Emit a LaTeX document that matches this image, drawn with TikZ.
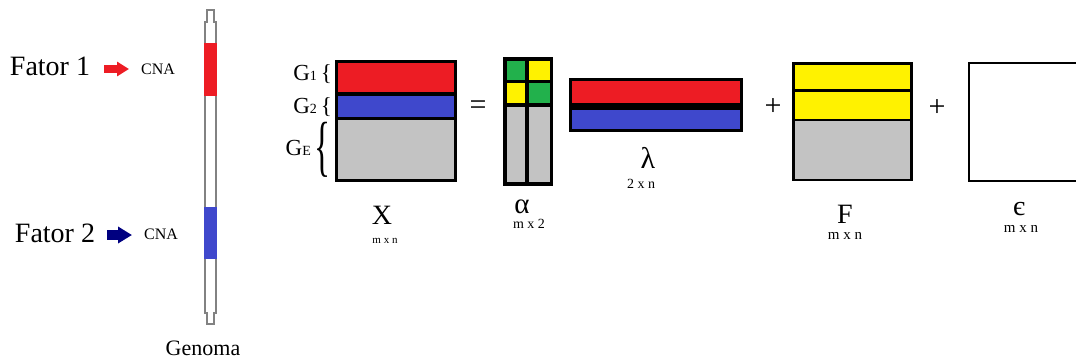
\documentclass[tikz,border=0pt]{standalone}
\usepackage{fontspec}
\usepackage{graphicx}
\setmainfont{Liberation Serif}
\usetikzlibrary{arrows.meta}

\definecolor{pred}{RGB}{237,28,36}
\definecolor{pblue}{RGB}{63,72,204}
\definecolor{pgreen}{RGB}{34,177,76}
\definecolor{pyellow}{RGB}{255,242,0}
\definecolor{pgray}{RGB}{195,195,195}
\definecolor{pnavy}{RGB}{0,0,128}
\definecolor{chrom}{RGB}{130,130,130}

\newcommand{\fsz}[1]{\fontsize{#1}{#1}\selectfont}

\begin{document}
\begin{tikzpicture}[x=1pt,y=-1pt,
  lbl/.style={inner sep=0pt, anchor=base},
  rlbl/.style={inner sep=0pt, anchor=base east},
]
\useasboundingbox (0,0) rectangle (1076,360);

% ---- chromosome ----
\draw[chrom, line width=2pt, fill=white]
  (206.5,10) -- (213.5,10) -- (213.5,22) -- (215.5,22) -- (215.5,313)
  -- (213.5,313) -- (213.5,324) -- (206.5,324) -- (206.5,313) -- (204.5,313)
  -- (204.5,22) -- (206.5,22) -- cycle;
\fill[pred]  (203.5,43)  rectangle (216.5,96);
\fill[pblue] (203.5,207) rectangle (216.5,259);
\node[lbl, font=\fsz{22}] (genoma) at (203,355) {Genoma};

% ---- factors ----
\node[lbl, font=\fsz{28}] (f1) at (50,75) {Fator 1};
\node[lbl, font=\fsz{16}] (c1) at (158,74) {CNA};
\coordinate (a1s) at (104,69);
\coordinate (a1e) at (129,69);
\draw[pred, line width=8pt, -{Triangle[length=12pt,width=14pt]}] (a1s) -- (a1e);

\node[lbl, font=\fsz{28}] (f2) at (55,242) {Fator 2};
\node[lbl, font=\fsz{16}] (c2) at (161,239) {CNA};
\coordinate (a2s) at (107,235);
\coordinate (a2e) at (132,235);
\draw[pnavy, line width=10pt, -{Triangle[length=14pt,width=16pt]}] (a2s) -- (a2e);

% ---- X ----
\fill[black] (335,60) rectangle (457,182);
\fill[pred]  (338,63) rectangle (454,92);
\fill[pblue] (338,96) rectangle (454,117);
\fill[pgray] (338,120) rectangle (454,179);
\node[rlbl, font=\fsz{23}] (g1) at (332,80) {G{\fsz{14}1}\,\{};
\node[rlbl, font=\fsz{23}] (g2) at (332,113) {G{\fsz{14}2}\,\{};
\node[rlbl, font=\fsz{23}] (ge) at (311,155) {G{\fsz{14}E}};
\node[inner sep=0pt, font=\fsz{23}] (gebrace) at (322.5,150)
  {\scalebox{1.45}[2.9]{\{}};
\node[lbl, font=\fsz{28}] (xl) at (382,224) {X};
\node[lbl, font=\fsz{11}] (xd) at (385,243) {m x n};

\node[inner sep=0pt, font=\fsz{30}] (eq) at (478,108) {=};

% ---- alpha ----
\fill[black]   (503,57) rectangle (553,186);
\fill[pgreen]  (507,61) rectangle (525,80);
\fill[pyellow] (529,61) rectangle (550,80);
\fill[pyellow] (507,83) rectangle (525,103);
\fill[pgreen]  (529,83) rectangle (550,103);
\fill[pgray]   (507,107) rectangle (525,182);
\fill[pgray]   (529,107) rectangle (550,182);
\node[lbl, font=\fsz{29}] (al) at (522,213) {α};
\node[lbl, font=\fsz{14}] (ad) at (529,228) {m x 2};

% ---- lambda ----
\fill[black] (569,78) rectangle (743,132);
\fill[pred]  (572,81) rectangle (740,103);
\fill[pblue] (572,110) rectangle (740,129);
\node[lbl, font=\fsz{30}] (ll) at (648,168) {λ};
\node[lbl, font=\fsz{14}] (ld) at (641,188) {2 x n};

\node[inner sep=0pt, font=\fsz{30}] (p1) at (773,107) {+};

% ---- F ----
\fill[black]   (792,62) rectangle (913,181);
\fill[pyellow] (795,65) rectangle (910,89);
\fill[pyellow] (795,92) rectangle (910,119);
\fill[pgray]   (795,121) rectangle (910,179);
\node[lbl, font=\fsz{28}] (fl) at (845,223) {F};
\node[lbl, font=\fsz{15}] (fd) at (845,239) {m x n};

\node[inner sep=0pt, font=\fsz{30}] (p2) at (937,108) {+};

% ---- epsilon ----
\draw[black, line width=2.5pt, fill=white] (969,63) rectangle (1090,181);
\node[lbl, font=\fsz{28}] (el) at (1019,215) {є};
\node[lbl, font=\fsz{15}] (ed) at (1021,232) {m x n};
\end{tikzpicture}
\end{document}
